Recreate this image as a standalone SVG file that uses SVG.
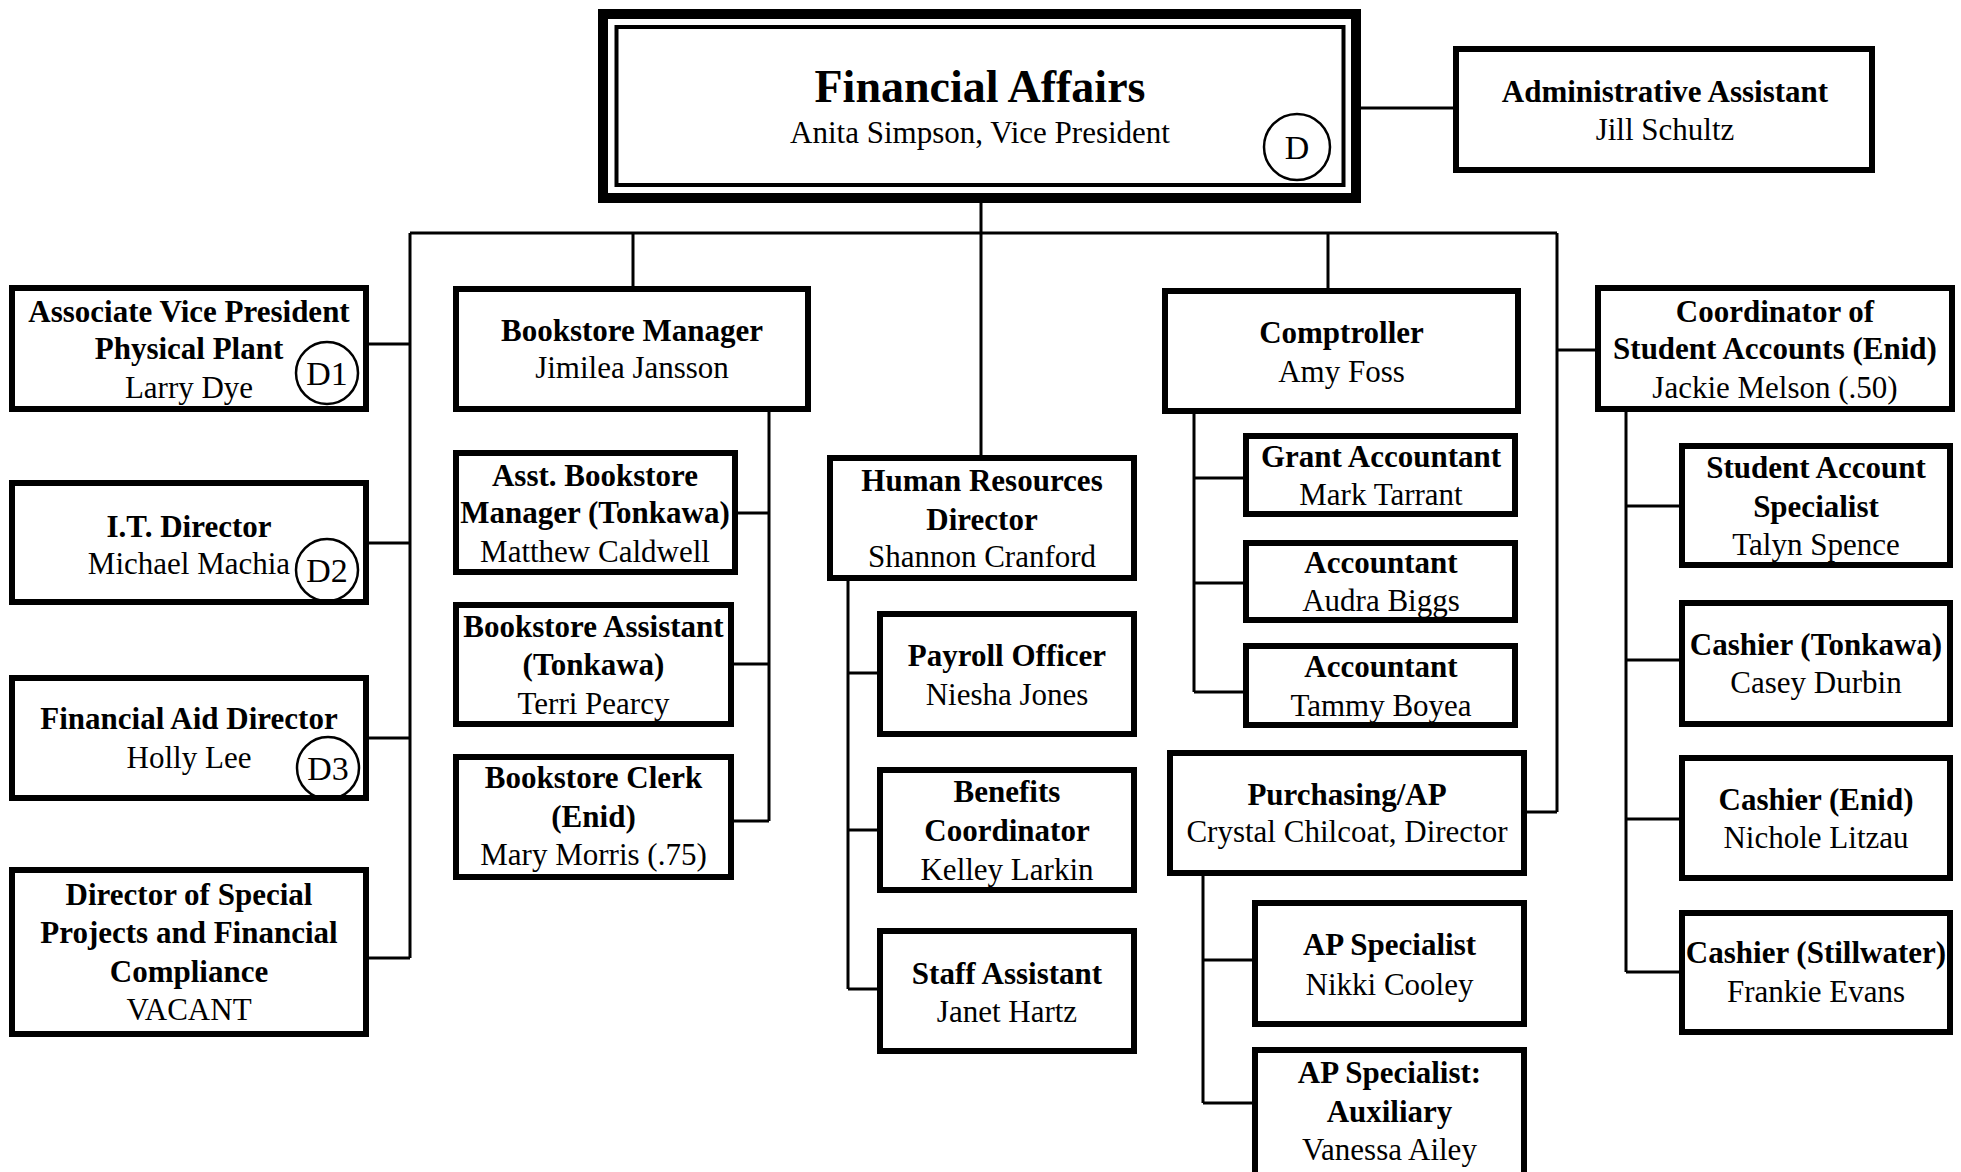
<svg xmlns="http://www.w3.org/2000/svg" width="1961" height="1172" viewBox="0 0 1961 1172">
<style>
.box{fill:#fff;stroke:#000;stroke-width:6}
.ln{fill:none;stroke:#000;stroke-width:3}
.c{fill:none;stroke:#000;stroke-width:2.5}
text{font-family:"Liberation Serif","Times New Roman",serif;font-size:31px;text-anchor:middle;fill:#000}
.b{font-weight:bold}
.d{font-size:34px}
.t{font-size:46px;font-weight:bold}
</style>
<rect width="1961" height="1172" fill="#fff"/>
<g id="connectors">
<path class="ln" d="M981 203V455M410 233H1557M410 233V958M369 344H410M369 543H410M369 738H410M369 958H410M633 233V289M769 412V821M738 513H769M734 664H769M734 821H769M848 581V989M848 673H877M848 830H877M848 989H877M1328 233V291M1194 414V692M1194 478H1243M1194 583H1243M1194 692H1243M1557 233V812M1527 812H1557M1557 350H1595M1203 876V1103M1203 960H1252M1203 1103H1252M1626 412V972M1626 506H1679M1626 660H1679M1626 819H1679M1626 972H1679M1361 108H1453"/>
</g>
<g id="financial-affairs">
<rect x="603" y="14" width="753" height="184" fill="#fff" stroke="#000" stroke-width="10"/>
<rect x="616.5" y="27" width="727" height="158" fill="none" stroke="#000" stroke-width="4"/>
<text class="t" x="980" y="102">Financial Affairs</text>
<text x="980" y="143">Anita Simpson, Vice President</text>
<circle class="c" cx="1297" cy="147" r="33"/>
<text class="d" x="1297" y="159">D</text>
</g>
<g id="admin-assistant">
<rect class="box" x="1456" y="49" width="416" height="121"/>
<text class="b" x="1665" y="102">Administrative Assistant</text>
<text x="1665" y="140">Jill Schultz</text>
</g>
<g id="avp-physical-plant">
<rect class="box" x="12" y="288" width="354" height="121"/>
<text class="b" x="189" y="322">Associate Vice President</text>
<text class="b" x="189" y="359">Physical Plant</text>
<text x="189" y="398">Larry Dye</text>
<circle class="c" cx="327" cy="373" r="31"/>
<text class="d" x="327" y="385">D1</text>
</g>
<g id="it-director">
<rect class="box" x="12" y="483" width="354" height="119"/>
<text class="b" x="189" y="537">I.T. Director</text>
<text x="189" y="574">Michael Machia</text>
<circle class="c" cx="327" cy="570" r="31"/>
<text class="d" x="327" y="582">D2</text>
</g>
<g id="financial-aid-director">
<rect class="box" x="12" y="678" width="354" height="120"/>
<text class="b" x="189" y="729">Financial Aid Director</text>
<text x="189" y="768">Holly Lee</text>
<circle class="c" cx="328" cy="768" r="31"/>
<text class="d" x="328" y="780">D3</text>
</g>
<g id="director-special-projects">
<rect class="box" x="12" y="870" width="354" height="164"/>
<text class="b" x="189" y="905">Director of Special</text>
<text class="b" x="189" y="943">Projects and Financial</text>
<text class="b" x="189" y="982">Compliance</text>
<text x="189" y="1020">VACANT</text>
</g>
<g id="bookstore-manager">
<rect class="box" x="456" y="289" width="352" height="120"/>
<text class="b" x="632" y="341">Bookstore Manager</text>
<text x="632" y="378">Jimilea Jansson</text>
</g>
<g id="asst-bookstore-manager">
<rect class="box" x="456" y="453" width="279" height="119"/>
<text class="b" x="595" y="486">Asst. Bookstore</text>
<text class="b" x="595" y="523">Manager (Tonkawa)</text>
<text x="595" y="562">Matthew Caldwell</text>
</g>
<g id="bookstore-assistant">
<rect class="box" x="456" y="605" width="275" height="119"/>
<text class="b" x="593.5" y="637">Bookstore Assistant</text>
<text class="b" x="593.5" y="675">(Tonkawa)</text>
<text x="593.5" y="714">Terri Pearcy</text>
</g>
<g id="bookstore-clerk">
<rect class="box" x="456" y="757" width="275" height="120"/>
<text class="b" x="593.5" y="788">Bookstore Clerk</text>
<text class="b" x="593.5" y="827">(Enid)</text>
<text x="593.5" y="865">Mary Morris (.75)</text>
</g>
<g id="hr-director">
<rect class="box" x="830" y="458" width="304" height="120"/>
<text class="b" x="982" y="491">Human Resources</text>
<text class="b" x="982" y="530">Director</text>
<text x="982" y="567">Shannon Cranford</text>
</g>
<g id="payroll-officer">
<rect class="box" x="880" y="614" width="254" height="120"/>
<text class="b" x="1007" y="666">Payroll Officer</text>
<text x="1007" y="705">Niesha Jones</text>
</g>
<g id="benefits-coordinator">
<rect class="box" x="880" y="770" width="254" height="120"/>
<text class="b" x="1007" y="802">Benefits</text>
<text class="b" x="1007" y="841">Coordinator</text>
<text x="1007" y="880">Kelley Larkin</text>
</g>
<g id="staff-assistant">
<rect class="box" x="880" y="931" width="254" height="120"/>
<text class="b" x="1007" y="984">Staff Assistant</text>
<text x="1007" y="1022">Janet Hartz</text>
</g>
<g id="comptroller">
<rect class="box" x="1165" y="291" width="353" height="120"/>
<text class="b" x="1341.5" y="343">Comptroller</text>
<text x="1341.5" y="382">Amy Foss</text>
</g>
<g id="grant-accountant">
<rect class="box" x="1246" y="436" width="269" height="78"/>
<text class="b" x="1381" y="467">Grant Accountant</text>
<text x="1381" y="505">Mark Tarrant</text>
</g>
<g id="accountant-biggs">
<rect class="box" x="1246" y="543" width="269" height="77"/>
<text class="b" x="1381" y="573">Accountant</text>
<text x="1381" y="611">Audra Biggs</text>
</g>
<g id="accountant-boyea">
<rect class="box" x="1246" y="646" width="269" height="79"/>
<text class="b" x="1381" y="677">Accountant</text>
<text x="1381" y="716">Tammy Boyea</text>
</g>
<g id="purchasing-ap">
<rect class="box" x="1170" y="753" width="354" height="120"/>
<text class="b" x="1347" y="805">Purchasing/AP</text>
<text x="1347" y="842">Crystal Chilcoat, Director</text>
</g>
<g id="ap-specialist">
<rect class="box" x="1255" y="903" width="269" height="121"/>
<text class="b" x="1389.5" y="955">AP Specialist</text>
<text x="1389.5" y="995">Nikki Cooley</text>
</g>
<g id="ap-specialist-auxiliary">
<rect class="box" x="1255" y="1050" width="269" height="125"/>
<text class="b" x="1389.5" y="1083">AP Specialist:</text>
<text class="b" x="1389.5" y="1122">Auxiliary</text>
<text x="1389.5" y="1160">Vanessa Ailey</text>
</g>
<g id="coordinator-student-accounts">
<rect class="box" x="1598" y="288" width="354" height="121"/>
<text class="b" x="1775" y="322">Coordinator of</text>
<text class="b" x="1775" y="359">Student Accounts (Enid)</text>
<text x="1775" y="398">Jackie Melson (.50)</text>
</g>
<g id="student-account-specialist">
<rect class="box" x="1682" y="446" width="268" height="119"/>
<text class="b" x="1816" y="478">Student Account</text>
<text class="b" x="1816" y="517">Specialist</text>
<text x="1816" y="555">Talyn Spence</text>
</g>
<g id="cashier-tonkawa">
<rect class="box" x="1682" y="603" width="268" height="121"/>
<text class="b" x="1816" y="655">Cashier (Tonkawa)</text>
<text x="1816" y="693">Casey Durbin</text>
</g>
<g id="cashier-enid">
<rect class="box" x="1682" y="758" width="268" height="120"/>
<text class="b" x="1816" y="810">Cashier (Enid)</text>
<text x="1816" y="848">Nichole Litzau</text>
</g>
<g id="cashier-stillwater">
<rect class="box" x="1682" y="913" width="268" height="119"/>
<text class="b" x="1816" y="963">Cashier (Stillwater)</text>
<text x="1816" y="1002">Frankie Evans</text>
</g>
</svg>
